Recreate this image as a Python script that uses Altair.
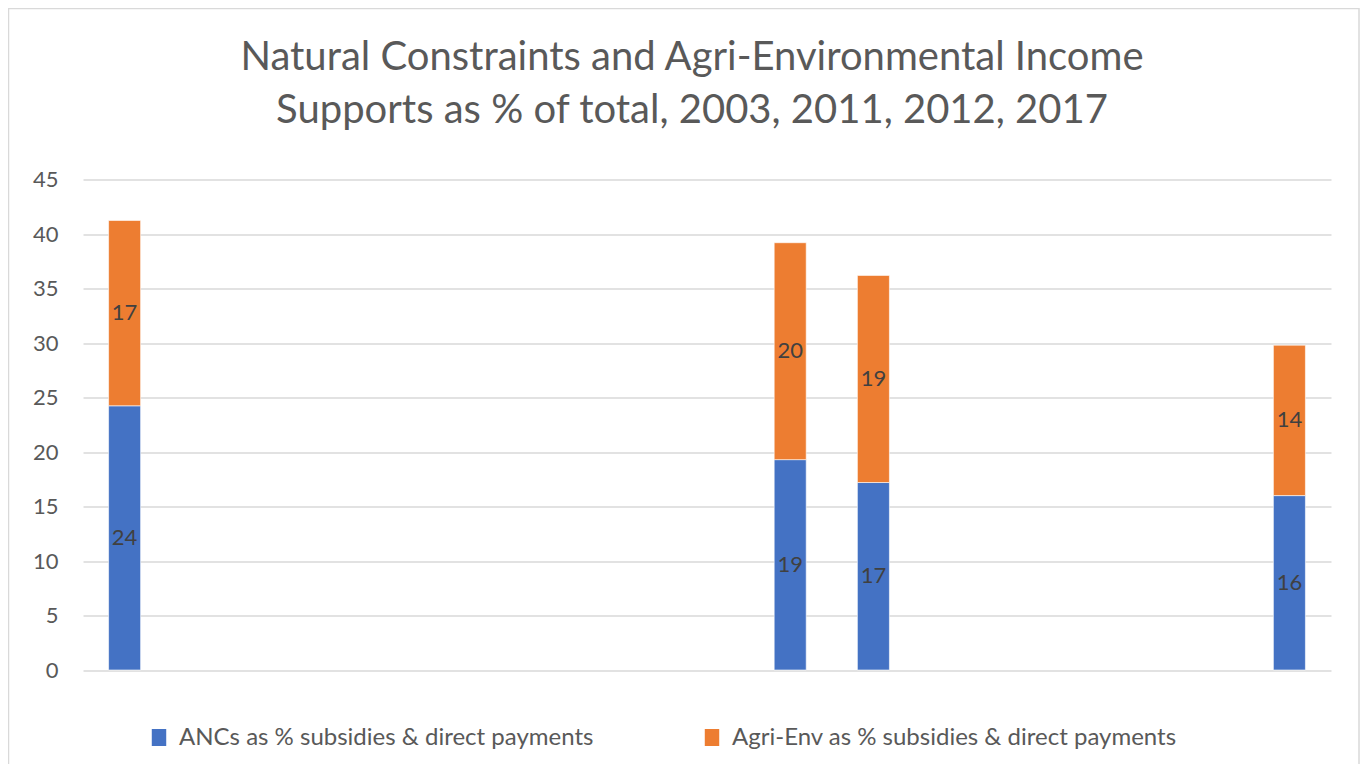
import altair as alt
import pandas as pd

years = [str(y) for y in range(2003, 2018)]
bar_years = ["2003", "2011", "2012", "2017"]
anc_values = [24.24, 19.3, 17.2, 16.0]
agri_values = [17.0, 19.9, 19.0, 13.8]
series_names = ["ANCs as % subsidies & direct payments", "Agri-Env as % subsidies & direct payments"]
y_ticks = [0, 5, 10, 15, 20, 25, 30, 35, 40, 45]
title_lines = ["Natural Constraints and Agri-Environmental Income",
               "Supports as % of total, 2003, 2011, 2012, 2017"]

rows = []
for yr, a, b in zip(bar_years, anc_values, agri_values):
    rows.append({"year": yr, "series": series_names[0], "value": a, "order": 0})
    rows.append({"year": yr, "series": series_names[1], "value": b, "order": 1})
df = pd.DataFrame(rows)

FONT = "Lato"
TXT = "#595959"

xscale = alt.Scale(domain=years, paddingInner=0.615, paddingOuter=0.3075)
yscale = alt.Scale(domain=[0, 45], nice=False)
color = alt.Color("series:N",
                  scale=alt.Scale(domain=series_names, range=["#4472C4", "#ED7D31"]),
                  legend=alt.Legend(orient="none", legendX=64, legendY=546,
                                    direction="horizontal", title=None,
                                    symbolType="M-0.85,-1H0.85V1H-0.85Z", symbolSize=289,
                                    symbolStrokeWidth=0,
                                    labelFont=FONT, labelFontSize=24, labelColor=TXT,
                                    labelOffset=8, columnPadding=106, labelLimit=1000))

bars = alt.Chart(df).mark_bar(stroke="white", strokeWidth=0.6).encode(
    x=alt.X("year:N", scale=xscale, axis=None),
    y=alt.Y("value:Q", stack="zero", scale=yscale,
            axis=alt.Axis(values=y_ticks, title=None, domain=False, ticks=False,
                          labelFont=FONT, labelFontSize=22, labelColor=TXT,
                          labelPadding=25, grid=True, gridColor="#d9d9d9", gridWidth=1.5)),
    color=color,
    order=alt.Order("order:Q"),
)

labels = alt.Chart(df).transform_stack(
    stack="value", groupby=["year"], as_=["y0", "y1"], sort=[alt.SortField("order")]
).transform_calculate(
    mid="(datum.y0 + datum.y1) / 2", lab="format(datum.value, '.0f')"
).mark_text(font=FONT, fontSize=22, color="#404040", baseline="middle").encode(
    x=alt.X("year:N", scale=xscale, axis=None),
    y=alt.Y("mid:Q", scale=yscale),
    text="lab:N",
)

border = alt.Chart(pd.DataFrame({"a": [0]})).mark_rect(
    fill=None, stroke="#d9d9d9", strokeWidth=1.5
).encode(x=alt.value(-74.5), x2=alt.value(1276), y=alt.value(-171), y2=alt.value(640))

title = alt.Chart(pd.DataFrame({"a": [0]})).mark_text(
    text=title_lines, font=FONT, fontSize=40, color=TXT, lineHeight=53,
    align="center", baseline="alphabetic"
).encode(x=alt.value(609), y=alt.value(-109.5))

chart = alt.layer(border, bars, labels, title).properties(
    width=1248, height=490.5,
    padding={"left": 75, "top": 171.5, "right": 29, "bottom": 94},
    autosize=alt.AutoSizeParams(type="none"),
    background="white",
).configure_view(stroke=None)

chart.save("out.html", embed_options={"renderer": "svg", "actions": False})
